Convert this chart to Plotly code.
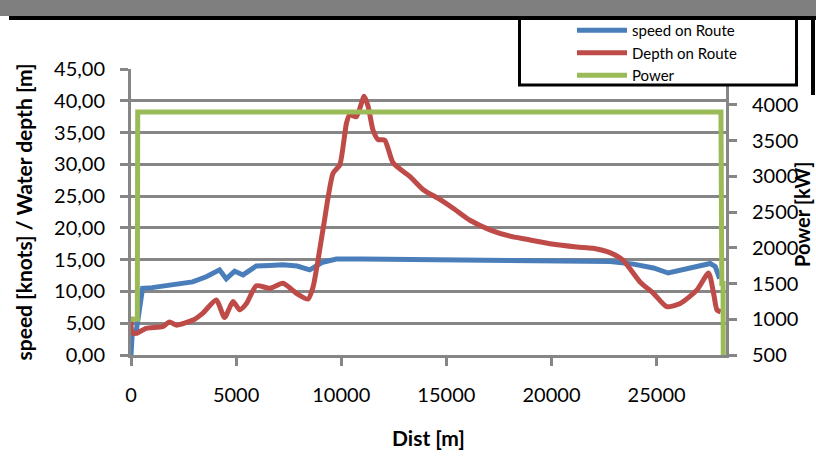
import plotly.graph_objects as go

# ---- data ----
dist_speed = [0, 60, 250, 400, 550, 1000, 1830, 2400, 2930, 3580, 4210, 4530, 4930, 5330, 5960,
              6600, 7220, 7900, 8500, 9120, 9770, 11000, 13000, 15640, 18000, 20000, 22800, 23900,
              24850, 25550, 26440, 27000, 27550, 27790, 28000]
speed = [0, 3.5, 3.8, 7.0, 10.5, 10.6, 11.0, 11.2, 11.5, 12.3, 13.4, 12.0, 13.2, 12.6, 14.0,
         14.1, 14.2, 14.0, 13.4, 14.6, 15.1, 15.1, 15.0, 14.9, 14.8, 14.8, 14.7, 14.3,
         13.7, 12.9, 13.5, 14.0, 14.4, 13.9, 12.0]

dist_depth = [0, 60, 250, 720, 1500, 1830, 2150, 2950, 3420, 4060, 4450, 4850, 5170, 5490, 5960,
              6600, 7230, 7870, 8420, 8660, 9130, 9610, 9930, 10250, 10400, 10720, 11090, 11280,
              11510, 11750, 12070, 12470, 13260, 13900, 14690, 15320, 16120, 17070, 18020, 18810,
              19930, 21200, 21980, 22780, 23410, 24210, 24850, 25480, 26120, 26910, 27470, 27710,
              27870, 28050]
depth = [6.0, 3.5, 3.4, 4.2, 4.45, 5.2, 4.7, 5.5, 6.6, 8.65, 5.9, 8.4, 7.1, 8.1, 10.9,
         10.5, 11.3, 9.7, 8.8, 10.7, 19.7, 28.6, 29.9, 36.5, 37.8, 37.5, 40.7, 39.1,
         35.4, 33.9, 33.8, 30.2, 28.1, 26.0, 24.5, 23.1, 21.2, 19.7, 18.7, 18.2,
         17.5, 17.0, 16.8, 16.1, 14.9, 11.5, 9.7, 7.6, 8.1, 10.2, 12.9, 9.7,
         7.1, 6.8]

dist_power = [0, 300, 320, 28060, 28100, 28160, 28170]
power = [1000, 1000, 3900, 3900, 1500, 1500, 500]

series_names = ["speed on Route", "Depth on Route", "Power"]
x_title = "Dist [m]"
y_title = "speed [knots] / Water depth [m]"
y2_title = "Power [kW]"

# ---- geometry / style ----
W, H = 816, 467
ML, MR, MT, MB = 131, 90, 69, 112
PW, PH = W - ML - MR, H - MT - MB


def px(x):
    return (x - ML) / PW


def py(y):
    return (H - MB - y) / PH


GRID = "#868686"
FONT = "Lato"
BLUE, RED, GREEN = "#4A7EBB", "#BE4B48", "#9BBB59"

fig = go.Figure()
fig.add_trace(go.Scatter(x=dist_speed, y=speed, name=series_names[0], mode="lines",
                         line=dict(color=BLUE, width=5), legendgroup="a"))
fig.add_trace(go.Scatter(x=dist_depth, y=depth, name=series_names[1], mode="lines",
                         line=dict(color=RED, width=5, shape="spline", smoothing=0.6),
                         legendgroup="b"))
fig.add_trace(go.Scatter(x=dist_power, y=power, name=series_names[2], mode="lines",
                         line=dict(color=GREEN, width=5), yaxis="y2", legendgroup="c"))

axis_common = dict(showline=True, linecolor=GRID, linewidth=3, ticks="outside", ticklen=8,
                   tickwidth=3, tickcolor=GRID, zeroline=False, automargin=False,
                   tickfont=dict(family=FONT, size=20, color="#000000"))

fig.update_layout(
    width=W, height=H,
    margin=dict(l=ML, r=MR, t=MT, b=MB, pad=0, autoexpand=False),
    paper_bgcolor="white", plot_bgcolor="white",
    separators=", ",
    font=dict(family=FONT, color="#000000"),
    xaxis=dict(range=[0, 28300], dtick=5000, tickformat="d", showgrid=False,
               ticklabelstandoff=12,
               title=dict(text=x_title, font=dict(family=FONT, size=21, color="#000000",
                                                  weight="bold"), standoff=27),
               **axis_common),
    yaxis=dict(range=[0, 45], dtick=5, tickformat=".2f", showgrid=True, gridcolor=GRID,
               gridwidth=2.5, ticklabelstandoff=11,
               title=dict(text=y_title + "\u00a0" * 7,
                          font=dict(family=FONT, size=21, color="#000000", weight="bold"),
                          standoff=16),
               **axis_common),
    yaxis2=dict(range=[500, 4500], dtick=500, tickformat="d", overlaying="y", side="right",
                showgrid=False, ticklabelstandoff=11, **axis_common),
    legend=dict(x=px(572), y=py(14), xanchor="left", yanchor="top",
                bgcolor="rgba(0,0,0,0)", borderwidth=0, itemwidth=50,
                tracegroupgap=0, font=dict(family=FONT, size=15, color="#000000")),
    shapes=[
        dict(type="rect", xref="paper", yref="paper", x0=px(0), x1=px(W), y0=py(0), y1=py(16),
             fillcolor="#7F7F7F", line=dict(width=0), layer="above"),
        dict(type="rect", xref="paper", yref="paper", x0=px(9), x1=px(W), y0=py(16), y1=py(20),
             fillcolor="#000000", line=dict(width=0), layer="above"),
        dict(type="rect", xref="paper", yref="paper", x0=px(811), x1=px(815), y0=py(16),
             y1=py(95), fillcolor="#000000", line=dict(width=0), layer="above"),
        dict(type="rect", xref="paper", yref="paper", x0=px(519.5), x1=px(796.5), y0=py(18.5),
             y1=py(85), fillcolor="white", line=dict(color="#000000", width=3), layer="above"),
    ],
    annotations=[
        dict(text=y2_title, xref="paper", yref="paper", x=px(802), y=py(215), showarrow=False,
             textangle=-90, xanchor="center", yanchor="middle",
             font=dict(family=FONT, size=20, color="#000000", weight="bold")),
    ],
)

fig.write_html("out.html", config={"displayModeBar": False},
               post_script="document.body.style.margin='0';document.body.style.overflow='hidden';")
